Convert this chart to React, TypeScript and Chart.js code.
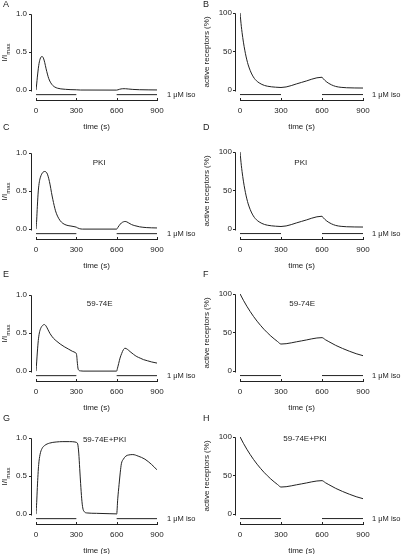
import React, { useEffect, useRef } from "react";
import { Chart, registerables } from "chart.js";

Chart.register(...registerables);

// ---- shared axis / label data ----
const xTicks = [0, 300, 600, 900];
const leftYTicks = [0, 0.5, 1.0];
const rightYTicks = [0, 50, 100];
const isoTimes1 = [0, 300];
const isoTimes2 = [600, 900];
const isoLabel = "1 \u03BCM iso";
const xTitle = "time (s)";
const leftYTitleMain = "I/I";
const leftYTitleSub = "max";
const rightYTitle = "active receptors (%)";

// ---- Panel A: I/Imax, control ----
const timeA = [0, 5, 10, 15, 20, 25, 30, 38, 46, 55, 65, 75, 85, 95, 110, 125, 140, 160, 185, 220, 260, 300, 330, 600, 620, 645, 665, 690, 720, 770, 840, 900];
const currentA = [0, 0.08, 0.17, 0.25, 0.32, 0.37, 0.405, 0.435, 0.44, 0.42, 0.36, 0.28, 0.21, 0.15, 0.095, 0.06, 0.04, 0.025, 0.016, 0.01, 0.006, 0.004, 0.001, 0, 0.01, 0.018, 0.018, 0.014, 0.009, 0.005, 0.003, 0.002];

// ---- Panel B: active receptors, control ----
const timeB = [0, 10, 20, 30, 40, 50, 60, 75, 90, 105, 120, 140, 160, 180, 200, 230, 260, 300, 450, 600, 610, 620, 635, 650, 670, 700, 740, 780, 840, 900];
const receptorsB = [100, 82, 68, 56.5, 47, 39, 32.5, 25, 19.3, 15, 12, 9.2, 7.2, 5.8, 4.9, 4.1, 3.6, 3.2, 9.8, 16.5, 14.4, 12.6, 10.3, 8.5, 6.6, 4.6, 3.4, 2.9, 2.6, 2.5];

// ---- Panel C: I/Imax, PKI ----
const timeC = [0, 5, 10, 17, 25, 33, 42, 52, 62, 74, 85, 95, 105, 115, 125, 135, 145, 160, 180, 200, 230, 260, 290, 300, 310, 325, 345, 600, 610, 620, 635, 650, 662, 675, 690, 710, 735, 770, 820, 900];
const currentC = [0, 0.12, 0.3, 0.5, 0.62, 0.68, 0.72, 0.745, 0.755, 0.75, 0.72, 0.66, 0.58, 0.48, 0.39, 0.31, 0.24, 0.17, 0.11, 0.075, 0.05, 0.04, 0.03, 0.025, 0.015, 0.005, 0, 0, 0.025, 0.05, 0.08, 0.095, 0.1, 0.095, 0.08, 0.06, 0.045, 0.03, 0.02, 0.015];

// ---- Panel D: active receptors, PKI ----
const timeD = [0, 10, 20, 30, 40, 50, 60, 75, 90, 105, 120, 140, 160, 180, 200, 230, 260, 300, 450, 600, 610, 620, 635, 650, 670, 700, 740, 780, 840, 900];
const receptorsD = [100, 82, 68, 56.5, 47, 39, 32.5, 25, 19.3, 15, 12, 9.2, 7.2, 5.8, 4.9, 4.1, 3.6, 3.2, 9.8, 16.5, 14.4, 12.6, 10.3, 8.5, 6.6, 4.6, 3.4, 2.9, 2.6, 2.5];

// ---- Panel E: I/Imax, 59-74E ----
const timeE = [0, 5, 10, 17, 25, 35, 50, 62, 75, 90, 105, 130, 155, 180, 210, 240, 270, 295, 300, 303, 307, 312, 318, 330, 350, 600, 605, 615, 625, 637, 650, 662, 680, 700, 725, 750, 775, 800, 830, 860, 900];
const currentE = [0, 0.12, 0.25, 0.4, 0.5, 0.56, 0.6, 0.61, 0.59, 0.54, 0.49, 0.43, 0.39, 0.355, 0.32, 0.29, 0.26, 0.24, 0.23, 0.2, 0.12, 0.04, 0.012, 0.003, 0, 0, 0.03, 0.1, 0.17, 0.23, 0.28, 0.3, 0.285, 0.255, 0.22, 0.19, 0.17, 0.15, 0.135, 0.12, 0.105];

// ---- Panel F: active receptors, 59-74E ----
const timeF = [0, 25, 50, 75, 100, 125, 150, 175, 200, 225, 250, 275, 300, 450, 600, 625, 650, 700, 750, 800, 850, 900];
const receptorsF = [100, 91.6, 83.9, 76.9, 70.4, 64.5, 59.1, 54.1, 49.6, 45.4, 41.6, 38.1, 34.9, 39, 43.2, 40.5, 38, 33.2, 29.2, 25.6, 22.4, 19.8];

// ---- Panel G: I/Imax, 59-74E+PKI ----
const timeG = [0, 5, 10, 15, 20, 30, 45, 65, 100, 150, 200, 250, 290, 300, 310, 318, 325, 332, 340, 348, 360, 380, 450, 550, 595, 600, 608, 618, 627, 635, 650, 668, 690, 720, 760, 810, 860, 900];
const currentG = [0, 0.15, 0.35, 0.52, 0.65, 0.78, 0.86, 0.9, 0.93, 0.945, 0.95, 0.95, 0.945, 0.94, 0.92, 0.8, 0.6, 0.4, 0.2, 0.08, 0.03, 0.015, 0.01, 0.005, 0.003, 0, 0.2, 0.39, 0.55, 0.66, 0.72, 0.76, 0.775, 0.78, 0.76, 0.72, 0.65, 0.58];

// ---- Panel H: active receptors, 59-74E+PKI ----
const timeH = [0, 25, 50, 75, 100, 125, 150, 175, 200, 225, 250, 275, 300, 450, 600, 625, 650, 700, 750, 800, 850, 900];
const receptorsH = [100, 91.6, 83.9, 76.9, 70.4, 64.5, 59.1, 54.1, 49.6, 45.4, 41.6, 38.1, 34.9, 39, 43.2, 40.5, 38, 33.2, 29.2, 25.6, 22.4, 19.8];

// ---- layout / style ----
const FONT = "'Liberation Sans', Arial, Helvetica, sans-serif";
const INK = "#222";
const CANVAS_H = 135;
const AREA_BOTTOM = 101;
const rowTops = [0, 139, 281, 424];

type PanelCfg = {
  letter: string;
  letterTop: number;
  side: "left" | "right";
  row: number;
  t: number[];
  v: number[];
  note?: string;
  noteT?: number;
  noteY?: number;
};

const panels: PanelCfg[] = [
  { letter: "A", letterTop: 0, side: "left", row: 0, t: timeA, v: currentA },
  { letter: "B", letterTop: 0, side: "right", row: 0, t: timeB, v: receptorsB },
  { letter: "C", letterTop: 122.5, side: "left", row: 1, t: timeC, v: currentC, note: "PKI", noteT: 470, noteY: 24 },
  { letter: "D", letterTop: 122.5, side: "right", row: 1, t: timeD, v: receptorsD, note: "PKI", noteT: 445, noteY: 24 },
  { letter: "E", letterTop: 270, side: "left", row: 2, t: timeE, v: currentE, note: "59-74E", noteT: 474, noteY: 23 },
  { letter: "F", letterTop: 270, side: "right", row: 2, t: timeF, v: receptorsF, note: "59-74E", noteT: 455, noteY: 23 },
  { letter: "G", letterTop: 413.5, side: "left", row: 3, t: timeG, v: currentG, note: "59-74E+PKI", noteT: 510, noteY: 16 },
  { letter: "H", letterTop: 413.5, side: "right", row: 3, t: timeH, v: receptorsH, note: "59-74E+PKI", noteT: 476, noteY: 15 },
];

function Panel({ cfg }: { cfg: PanelCfg }) {
  const ref = useRef<HTMLCanvasElement>(null);
  const isLeft = cfg.side === "left";
  const W = isLeft ? 200 : 201;
  const yAxisWidth = isLeft ? 36 : 40;
  const padRight = isLeft ? 43 : 38;
  const labelPad = isLeft ? 9 : 8;
  const titleX = isLeft ? 5 : 7;

  useEffect(() => {
    if (!ref.current) return;
    const yMax = isLeft ? 1 : 100;
    const yMin = -(yMax * 12) / 84;
    const isoY = -(yMax * 5) / 84;
    const yTicks = isLeft ? leftYTicks : rightYTicks;

    const decor = {
      id: "decor",
      afterDraw(chart: any) {
        const { ctx, chartArea } = chart;
        const xs = chart.scales.x;
        const ys = chart.scales.y;
        ctx.save();
        ctx.strokeStyle = INK;
        ctx.lineWidth = 1;
        ctx.beginPath();
        // y axis (detached)
        const ax = Math.round(xs.getPixelForValue(0) - 5) + 0.5;
        const yTop = Math.round(ys.getPixelForValue(yMax)) + 0.5;
        const yBot = Math.round(ys.getPixelForValue(0)) + 0.5;
        ctx.moveTo(ax, yTop);
        ctx.lineTo(ax, yBot + 1);
        for (const v of yTicks) {
          const py = Math.round(ys.getPixelForValue(v)) + 0.5;
          ctx.moveTo(ax - 2.5, py);
          ctx.lineTo(ax, py);
        }
        // x axis (detached)
        const by = Math.round(chartArea.bottom) - 0.5;
        const xl = xs.getPixelForValue(0);
        const xr = xs.getPixelForValue(900);
        ctx.moveTo(Math.round(xl), by);
        ctx.lineTo(Math.round(xr) + 1, by);
        for (const v of xTicks) {
          const px = Math.round(xs.getPixelForValue(v)) + 0.5;
          ctx.moveTo(px, by);
          ctx.lineTo(px, by - 2.5);
        }
        ctx.stroke();

        ctx.fillStyle = INK;
        ctx.font = `8px ${FONT}`;
        ctx.textBaseline = "middle";
        ctx.textAlign = "center";
        ctx.fillText(xTitle, (xl + xr) / 2, ys.getPixelForValue(0) + 37);
        ctx.textAlign = "left";
        ctx.font = `7.5px ${FONT}`;
        ctx.fillText(isoLabel, xr + (isLeft ? 10 : 9), ys.getPixelForValue(isoY));
        ctx.font = `8px ${FONT}`;
        if (cfg.note) {
          ctx.textAlign = "center";
          ctx.fillText(cfg.note, xs.getPixelForValue(cfg.noteT ?? 450), cfg.noteY ?? 20);
        }
        // y title
        const midY = (yTop + yBot) / 2;
        ctx.translate(titleX, midY);
        ctx.rotate(-Math.PI / 2);
        if (isLeft) {
          ctx.font = `8px ${FONT}`;
          const w1 = ctx.measureText(leftYTitleMain).width;
          ctx.font = `6px ${FONT}`;
          const w2 = ctx.measureText(leftYTitleSub).width;
          const start = -(w1 + w2) / 2;
          ctx.textAlign = "left";
          ctx.font = `8px ${FONT}`;
          ctx.fillText(leftYTitleMain, start, 0);
          ctx.font = `6px ${FONT}`;
          ctx.fillText(leftYTitleSub, start + w1, 3);
        } else {
          ctx.textAlign = "center";
          ctx.font = `8px ${FONT}`;
          ctx.fillText(rightYTitle, 0, 0);
        }
        ctx.restore();
      },
    };

    const lineStyle = {
      borderColor: INK,
      borderWidth: 1,
      pointRadius: 0,
      fill: false,
    };

    const chart = new Chart(ref.current, {
      type: "line",
      data: {
        datasets: [
          {
            ...lineStyle,
            data: cfg.t.map((t, i) => ({ x: t, y: cfg.v[i] })),
            cubicInterpolationMode: "monotone",
          },
          { ...lineStyle, data: isoTimes1.map((t) => ({ x: t, y: isoY })), tension: 0 },
          { ...lineStyle, data: isoTimes2.map((t) => ({ x: t, y: isoY })), tension: 0 },
        ],
      },
      options: {
        animation: false,
        responsive: false,
        maintainAspectRatio: false,
        events: [],
        layout: { padding: { top: 5, right: padRight, left: 0, bottom: 0 } },
        plugins: { legend: { display: false }, tooltip: { enabled: false }, title: { display: false } },
        scales: {
          x: {
            type: "linear",
            min: 0,
            max: 900,
            grid: { display: false, drawTicks: false },
            border: { display: false },
            afterBuildTicks: (s: any) => {
              s.ticks = xTicks.map((v) => ({ value: v }));
            },
            afterFit: (s: any) => {
              s.height = CANVAS_H - AREA_BOTTOM;
            },
            ticks: {
              padding: 5,
              color: INK,
              font: { size: 8, family: FONT },
              maxRotation: 0,
              autoSkip: false,
            },
          },
          y: {
            type: "linear",
            min: yMin,
            max: yMax,
            grid: { display: false, drawTicks: false },
            border: { display: false },
            afterBuildTicks: (s: any) => {
              s.ticks = yTicks.map((v) => ({ value: v }));
            },
            afterFit: (s: any) => {
              s.width = yAxisWidth;
            },
            ticks: {
              padding: labelPad,
              color: INK,
              font: { size: 8, family: FONT },
              callback: (v: any) => (isLeft ? Number(v).toFixed(1) : String(v)),
            },
          },
        },
      } as any,
      plugins: [decor],
    });
    return () => chart.destroy();
  }, []);

  return (
    <canvas
      ref={ref}
      width={W}
      height={CANVAS_H}
      style={{
        position: "absolute",
        left: isLeft ? 0 : 200,
        top: rowTops[cfg.row],
        width: W,
        height: CANVAS_H,
      }}
    />
  );
}

export default function App() {
  return (
    <div
      style={{
        position: "fixed",
        left: 0,
        top: 0,
        width: 401,
        height: 554,
        overflow: "hidden",
        background: "#fff",
      }}
    >
      {panels.map((p) => (
        <Panel key={p.letter} cfg={p} />
      ))}
      {panels.map((p) => (
        <div
          key={"l" + p.letter}
          style={{
            position: "absolute",
            left: p.side === "left" ? 3 : 203,
            top: p.letterTop,
            fontFamily: FONT,
            fontSize: 9,
            lineHeight: "9px",
            color: INK,
            zIndex: 2,
          }}
        >
          {p.letter}
        </div>
      ))}
    </div>
  );
}
